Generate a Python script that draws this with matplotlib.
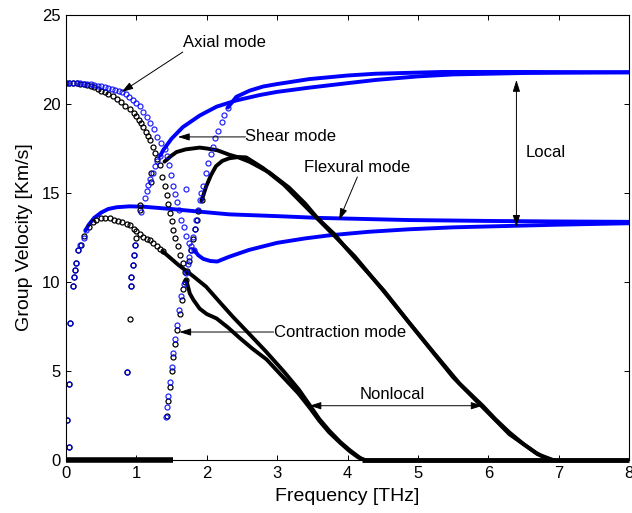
import numpy as np
import matplotlib
matplotlib.use('Agg')
import matplotlib.pyplot as plt

plt.rcParams['font.family'] = ['Liberation Sans', 'DejaVu Sans']

# ---------------- local (blue) branches ----------------
# axial mode, sparse markers then dense band
b_axial_pts_f = [0.0, 0.05, 0.1, 0.15, 0.2, 0.25, 0.3, 0.35, 0.4, 0.45, 0.5, 0.55, 0.6, 0.65, 0.7,
                 0.75, 0.8, 0.85, 0.9, 0.95, 1.0, 1.05, 1.1, 1.15, 1.2, 1.25, 1.3, 1.35, 1.4, 1.43,
                 1.46, 1.49, 1.52, 1.55, 1.58, 1.61, 1.64, 1.67, 1.71, 1.75, 1.78, 1.82]
b_axial_pts_v = [21.2, 21.2, 21.2, 21.18, 21.17, 21.15, 21.12, 21.1, 21.07, 21.03, 21.0, 20.95, 20.9, 20.85, 20.8,
                 20.73, 20.67, 20.55, 20.4, 20.2, 20.05, 19.9, 19.55, 19.25, 18.95, 18.6, 18.15, 17.8, 17.45, 17.1,
                 16.6, 16.0, 15.4, 14.95, 14.5, 14.05, 13.5, 13.1, 12.6, 12.2, 12.0, 11.8]
b_axial_f = [1.82, 1.88, 1.95, 2.05, 2.15, 2.32, 2.6, 3.0, 3.4, 3.74, 4.3, 4.87, 5.5, 6.3, 7.0, 8.0]
b_axial_v = [11.8, 11.5, 11.3, 11.18, 11.15, 11.42, 11.8, 12.2, 12.45, 12.62, 12.82, 12.96, 13.07, 13.15, 13.22, 13.3]

# flexural mode
b_flex_pts_f = [0.04, 0.01, 0.04, 0.06, 0.10, 0.11, 0.13, 0.14, 0.17, 0.20, 0.25, 0.28]
b_flex_pts_v = [0.75, 2.25, 4.25, 7.7, 9.78, 10.3, 10.67, 11.05, 11.8, 12.08, 12.45, 12.9]
b_flex_f = [0.28, 0.32, 0.4, 0.5, 0.6, 0.72, 0.9, 1.1, 1.5, 1.9, 2.32, 3.0, 3.6, 4.87, 6.0, 7.0, 8.0]
b_flex_v = [12.9, 13.2, 13.6, 13.9, 14.1, 14.2, 14.25, 14.23, 14.1, 13.95, 13.8, 13.7, 13.6, 13.48, 13.43, 13.4, 13.38]

# shear mode
b_shear_pts_f = [1.12, 1.15, 1.17, 1.2, 1.23, 1.27, 1.3, 1.34]
b_shear_pts_v = [14.7, 15.1, 15.45, 15.8, 16.1, 16.5, 16.8, 17.1]
b_shear_f = [1.34, 1.38, 1.5, 1.66, 1.9, 2.14, 2.42, 2.75, 3.0, 3.46, 4.0, 4.4, 5.0, 5.5, 6.5, 8.0]
b_shear_v = [17.1, 17.4, 18.05, 18.7, 19.35, 19.85, 20.2, 20.5, 20.68, 20.92, 21.17, 21.35, 21.55, 21.66, 21.74, 21.78]

# contraction mode
b_contr_pts_f = [1.425, 1.44, 1.455, 1.475, 1.5, 1.525, 1.55, 1.58, 1.61, 1.64, 1.67, 1.7, 1.73, 1.755,
                 1.78, 1.81, 1.83, 1.85, 1.875, 1.9, 1.925, 1.95, 1.985, 2.02, 2.06, 2.09, 2.12, 2.16,
                 2.21, 2.25, 2.3]
b_contr_pts_v = [2.4, 3.0, 3.6, 4.4, 5.2, 6.0, 6.8, 7.6, 8.4, 9.2, 9.9, 10.5, 11.0, 11.4,
                 11.8, 12.5, 13.0, 13.5, 14.05, 14.6, 15.0, 15.4, 16.1, 16.7, 17.2, 17.6, 18.1, 18.5,
                 19.0, 19.4, 19.8]
b_contr_f = [2.3, 2.37, 2.42, 2.61, 2.8, 3.0, 3.46, 4.0, 4.4, 5.35, 6.5, 8.0]
b_contr_v = [19.8, 20.15, 20.4, 20.75, 20.98, 21.12, 21.4, 21.6, 21.7, 21.8, 21.8, 21.78]

# stray local points
b_misc_f = [0.87, 0.93, 0.93, 0.95, 0.97, 0.98, 1.07, 1.71]
b_misc_v = [4.93, 9.78, 10.3, 10.95, 11.5, 12.08, 13.95, 15.2]

# ---------------- nonlocal (black) branches ----------------
k_axial_pts_f = [0.0, 0.05, 0.1, 0.15, 0.2, 0.25, 0.3, 0.35, 0.4, 0.45, 0.5, 0.55, 0.6, 0.67, 0.72,
                 0.78, 0.84, 0.91, 0.96, 1.0, 1.04, 1.07, 1.1, 1.14, 1.17, 1.19, 1.23, 1.26, 1.3,
                 1.33, 1.36, 1.4, 1.43, 1.45, 1.475, 1.5, 1.52, 1.55, 1.59, 1.62, 1.66, 1.69, 1.71]
k_axial_pts_v = [21.2, 21.2, 21.18, 21.17, 21.15, 21.1, 21.05, 21.0, 20.95, 20.85, 20.75, 20.65, 20.55, 20.45, 20.3,
                 20.1, 19.9, 19.7, 19.5, 19.3, 19.1, 18.95, 18.7, 18.45, 18.2, 17.95, 17.6, 17.25, 16.9,
                 16.6, 15.9, 15.4, 14.9, 14.4, 13.9, 13.4, 12.9, 12.45, 12.0, 11.5, 11.05, 10.55, 10.1]
k_axial_f = [1.71, 1.76, 1.81, 1.9, 2.0, 2.14, 2.3, 2.47, 2.65, 2.85, 3.05, 3.3, 3.46, 3.6, 3.74, 3.9, 4.03, 4.15, 4.25]
k_axial_v = [10.1, 9.35, 9.0, 8.5, 8.2, 7.95, 7.45, 6.85, 6.25, 5.65, 4.8, 3.75, 2.95, 2.2, 1.55, 0.95, 0.5, 0.15, 0.0]

k_flex_pts_f = [0.04, 0.01, 0.04, 0.06, 0.10, 0.11, 0.13, 0.14, 0.17, 0.22, 0.26, 0.32, 0.38, 0.43, 0.5,
                0.56, 0.62, 0.68, 0.74, 0.8, 0.86, 0.91, 0.96, 1.0, 1.05, 1.1, 1.15, 1.19, 1.24, 1.29,
                1.33, 1.38]
k_flex_pts_v = [0.75, 2.25, 4.25, 7.7, 9.78, 10.3, 10.67, 11.05, 11.8, 12.08, 12.6, 13.1, 13.35, 13.5, 13.57,
                13.6, 13.57, 13.5, 13.45, 13.35, 13.28, 13.2, 13.0, 12.85, 12.7, 12.55, 12.4, 12.36, 12.2, 12.0,
                11.85, 11.75]
k_flex_f = [1.38, 1.6, 1.8, 1.99, 2.2, 2.37, 2.6, 2.84, 3.1, 3.31, 3.46, 3.6, 3.74, 3.9, 4.03, 4.15, 4.22]
k_flex_v = [11.7, 10.95, 10.35, 9.74, 8.8, 8.05, 7.1, 6.1, 4.95, 3.95, 3.1, 2.3, 1.65, 1.0, 0.56, 0.2, 0.0]

k_shear_f = [1.40, 1.5, 1.57, 1.7, 1.9, 2.0, 2.15, 2.32, 2.45, 2.61, 2.89, 3.17, 3.4, 3.57, 3.81, 3.98,
             4.25, 4.52, 4.87, 5.2, 5.59, 5.92, 6.1, 6.3, 6.5, 6.68, 6.8, 6.9]
k_shear_v = [16.76, 17.1, 17.3, 17.45, 17.55, 17.5, 17.4, 17.15, 17.0, 16.75, 16.15, 15.3, 14.4, 13.6, 12.7, 11.9,
             10.7, 9.5, 7.75, 6.15, 4.3, 3.05, 2.3, 1.55, 0.9, 0.4, 0.13, 0.0]

k_contr_pts_f = [1.435, 1.455, 1.475, 1.5, 1.525, 1.55, 1.575, 1.615, 1.645, 1.665, 1.69, 1.72, 1.75,
                 1.78, 1.81, 1.84, 1.86, 1.88, 1.93]
k_contr_pts_v = [2.5, 3.3, 4.1, 5.0, 5.8, 6.5, 7.3, 8.2, 9.0, 9.6, 10.0, 10.6, 11.2,
                 11.8, 12.4, 13.0, 13.5, 14.0, 14.6]
k_contr_f = [1.93, 1.99, 2.06, 2.13, 2.22, 2.32, 2.45, 2.56, 2.8, 3.1, 3.4, 3.6, 3.85, 4.1, 4.5, 5.0,
             5.5, 5.9, 6.3, 6.7, 6.92]
k_contr_v = [14.6, 15.35, 16.0, 16.5, 16.8, 16.95, 17.02, 17.0, 16.4, 15.45, 14.25, 13.45, 12.45, 11.45, 9.55, 7.1,
             4.65, 3.05, 1.45, 0.33, 0.0]

k_misc_f = [0.87, 0.91, 0.93, 0.93, 0.95, 0.97, 0.98, 1.0, 1.05, 1.05, 1.21, 1.21]
k_misc_v = [4.93, 7.9, 9.78, 10.3, 10.95, 11.5, 12.08, 12.45, 14.05, 14.3, 15.6, 16.1]

# zero group velocity stretches
zero_a = [0.0, 1.52]
zero_b = [4.2, 8.0]

fig = plt.figure(figsize=(6.32, 5.13), dpi=100)
ax = fig.add_axes([0.1044, 0.1033, 0.8909, 0.8675])

BLUE = '#0000ff'
lw_band = 2.8
mk = dict(linestyle='none', marker='o', markersize=3.6, markerfacecolor='none', markeredgewidth=0.9)

# dense bands
for f, v in [(b_axial_f, b_axial_v), (b_flex_f, b_flex_v), (b_shear_f, b_shear_v), (b_contr_f, b_contr_v)]:
    ax.plot(f, v, color=BLUE, lw=lw_band, solid_capstyle='round', solid_joinstyle='round')
for f, v in [(k_axial_f, k_axial_v), (k_flex_f, k_flex_v), (k_shear_f, k_shear_v), (k_contr_f, k_contr_v)]:
    ax.plot(f, v, color='k', lw=lw_band, solid_capstyle='round', solid_joinstyle='round')

# sparse markers
for f, v in [(k_axial_pts_f, k_axial_pts_v), (k_flex_pts_f, k_flex_pts_v), (k_contr_pts_f, k_contr_pts_v),
             (k_misc_f, k_misc_v)]:
    ax.plot(f, v, color='k', markeredgecolor='k', **mk)
for f, v in [(b_axial_pts_f, b_axial_pts_v), (b_flex_pts_f, b_flex_pts_v), (b_shear_pts_f, b_shear_pts_v),
             (b_contr_pts_f, b_contr_pts_v), (b_misc_f, b_misc_v)]:
    ax.plot(f, v, color=BLUE, markeredgecolor=BLUE, alpha=0.85, **mk)

ax.plot(zero_a, [0, 0], color='k', lw=4, clip_on=False, solid_capstyle='butt', zorder=5)
ax.plot(zero_b, [0, 0], color='k', lw=3.5, clip_on=False, solid_capstyle='butt', zorder=5)

ax.set_xlim(0, 8)
ax.set_ylim(0, 25)
ax.set_xticks(range(0, 9))
ax.set_yticks(range(0, 26, 5))
ax.tick_params(direction='in', top=True, right=True, length=3.6, width=0.7, labelsize=12, pad=4)
for s in ax.spines.values():
    s.set_linewidth(0.8)

ax.set_xlabel('Frequency [THz]', fontsize=14)
ax.set_ylabel('Group Velocity [Km/s]', fontsize=14)
ax.xaxis.set_label_coords(0.5, -0.063)
ax.yaxis.set_label_coords(-0.059, 0.5)

arr = dict(arrowstyle='-|>,head_length=0.7,head_width=0.22', color='k', lw=0.7, shrinkA=0, shrinkB=0)
darr = dict(arrowstyle='<|-|>,head_length=0.7,head_width=0.22', color='k', lw=0.7, shrinkA=0, shrinkB=0)
fs = 12

ax.text(2.25, 23.48, 'Axial mode', fontsize=fs, ha='center', va='center')
ax.annotate('', xy=(0.79, 20.67), xytext=(1.66, 22.92), arrowprops=arr)

ax.text(2.55, 18.15, 'Shear mode', fontsize=fs, ha='left', va='center')
ax.annotate('', xy=(1.59, 18.15), xytext=(2.55, 18.15), arrowprops=arr)

ax.text(4.13, 16.46, 'Flexural mode', fontsize=fs, ha='center', va='center')
ax.annotate('', xy=(3.88, 13.48), xytext=(4.14, 15.9), arrowprops=arr)

ax.text(6.53, 17.3, 'Local', fontsize=fs, ha='left', va='center')
ax.annotate('', xy=(6.40, 13.1), xytext=(6.40, 21.35), arrowprops=darr)

ax.text(2.95, 7.19, 'Contraction mode', fontsize=fs, ha='left', va='center')
ax.annotate('', xy=(1.61, 7.19), xytext=(2.95, 7.19), arrowprops=arr)

ax.text(4.63, 3.7, 'Nonlocal', fontsize=fs, ha='center', va='center')
ax.annotate('', xy=(3.46, 3.05), xytext=(5.92, 3.05), arrowprops=darr)

fig.savefig('out.png', dpi=100)
